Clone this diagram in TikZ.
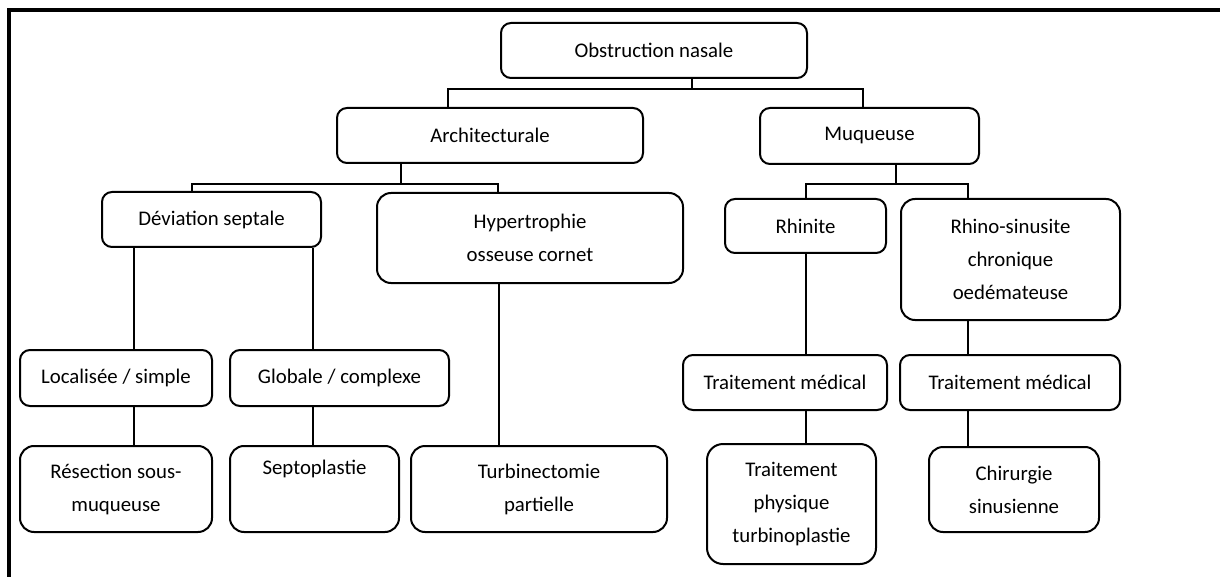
\documentclass[tikz,border=0pt]{standalone}
\usepackage{fontspec}
\setmainfont{Carlito}
\usepackage{tikz}
\usetikzlibrary{positioning, calc}

\tikzset{
    box/.style={draw, line width=1pt, rounded corners=5pt, fill=white, align=center,
        inner sep=0pt, font=\fontsize{10.4}{16.5}\selectfont},
    sz/.style 2 args={minimum width=#1*0.5pt, minimum height=#2*0.5pt},
    link/.style={line width=0.8pt}
}

\begin{document}
\begin{tikzpicture}[x=0.5pt, y=-0.5pt]
    \useasboundingbox (0,0) rectangle (1220,577);

    % Frame (top and left only)
    \draw[line width=2pt] (9,577) -- (9,10.3) -- (1220,10.3);

    % Level 0 and 1
    \node[box, sz={306}{55}] (obs) at (654,50.5) {Obstruction nasale};
    \node[box, sz={306}{55}] (archi) at (490,135.5) {Architecturale};
    \node[box, sz={219}{56}] (muq) at (869.5,136) {Muqueuse};

    % Level 2
    \node[box, sz={219}{55}] (dev) at (211.5,219.5) {Déviation septale};
    \node[box, sz={306}{90}, rounded corners=7pt] (hyp) at (530,238) {Hypertrophie\\osseuse cornet};
    \node[box, sz={161}{54}] (rhin) at (805.5,226) {Rhinite};
    \node[box, sz={219}{121}, rounded corners=7pt] (rsc) at (1010.5,259.5) {Rhino-sinusite\\chronique\\oedémateuse};

    % Level 3
    \node[box, sz={192}{56}] (loc) at (116,378) {Localisée / simple};
    \node[box, sz={219}{56}] (glob) at (339.5,378) {Globale / complexe};
    \node[box, sz={204}{55}] (tmA) at (785,382.5) {Traitement médical};
    \node[box, sz={220}{55}] (tmB) at (1010,382.5) {Traitement médical};

    % Level 4
    \node[box, sz={192}{86}, rounded corners=7pt] (res) at (116,489) {Résection sous-\\muqueuse};
    \node[box, sz={169}{86}, rounded corners=7pt] (sept) at (314.5,489) {Septoplastie\\\strut};
    \node[box, sz={256}{86}, rounded corners=7pt] (turb) at (539,489) {Turbinectomie\\partielle};
    \node[box, sz={169}{120}, rounded corners=8pt] (tphys) at (791.5,504) {Traitement\\physique\\turbinoplastie};
    \node[box, sz={170}{85}, rounded corners=7pt] (chir) at (1014,489.5) {Chirurgie\\sinusienne};

    % Junction points
    \coordinate (j0) at (692,89);
    \coordinate (j0l) at (448,89);
    \coordinate (j0r) at (863,89);
    \coordinate (j1) at (401,184);
    \coordinate (j1l) at (192,184);
    \coordinate (j1r) at (498,184);
    \coordinate (j2) at (896,184);
    \coordinate (j2l) at (806,184);
    \coordinate (j2r) at (968,184);
    \coordinate (dl) at (134,0);
    \coordinate (dr) at (313,0);
    \coordinate (dh) at (499,0);

    % Connectors
    \draw[link] (obs.south -| j0) -- (j0);
    \draw[link] (archi.north -| j0l) |- (j0r) -- (muq.north -| j0r);
    \draw[link] (archi.south -| j1) -- (j1);
    \draw[link] (dev.north -| j1l) |- (j1r) -- (hyp.north -| j1r);
    \draw[link] (muq.south -| j2) -- (j2);
    \draw[link] (rhin.north -| j2l) |- (j2r) -- (rsc.north -| j2r);

    \draw[link] (dev.south -| dl) -- (loc.north -| dl);
    \draw[link] (dev.south -| dr) -- (glob.north -| dr);
    \draw[link] (loc.south -| dl) -- (res.north -| dl);
    \draw[link] (glob.south -| dr) -- (sept.north -| dr);
    \draw[link] (hyp.south -| dh) -- (turb.north -| dh);
    \draw[link] (rhin.south -| j2l) -- (tmA.north -| j2l);
    \draw[link] (tmA.south -| j2l) -- (tphys.north -| j2l);
    \draw[link] (rsc.south -| j2r) -- (tmB.north -| j2r);
    \draw[link] (tmB.south -| j2r) -- (chir.north -| j2r);
\end{tikzpicture}
\end{document}
